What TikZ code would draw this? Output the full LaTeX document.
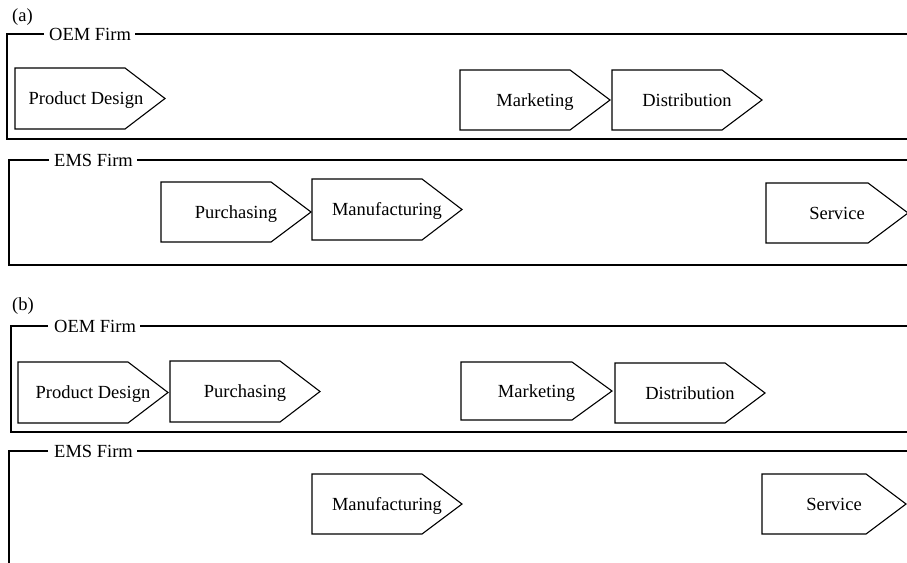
\documentclass[tikz,border=0pt]{standalone}
\usepackage{fontspec}
\setmainfont{Liberation Serif}
\tikzset{
  chevline/.style={draw=black, line width=1.1pt, line join=miter},
  chevtext/.style={inner sep=0pt, text height=12.2pt, text depth=0pt, font=\fontsize{18.5}{22}\selectfont},
  frameline/.style={draw=black, line width=2.2pt},
  framelabel/.style={inner sep=0pt, text height=12.2pt, text depth=0pt, font=\fontsize{18.5}{22}\selectfont, anchor=west},
  panellabel/.style={inner sep=0pt, anchor=west, font=\fontsize{18.5}{22}\selectfont}
}
\newcommand\chev[7]{%
  \draw[chevline] (#2,#3) -- ({#5-40},#3) -- (#5,{(#3+#4)/2}) -- ({#5-40},#4) -- (#2,#4) -- cycle;
  \node[chevtext] (#1) at ({(#2+#5)/2+#7},{(#3+#4)/2}) {#6};
}
\begin{document}
\begin{tikzpicture}[x=1pt,y=-1pt]
\useasboundingbox (0,0) rectangle (907,562);
\clip (0,0) rectangle (907,562);
% ---------- panel (a)
\node[panellabel] (pa) at (12,17) {(a)};
\node[framelabel] (oemA) at (49,34) {OEM Firm};
\coordinate (oemAr) at (912,34);
\coordinate (oemAb) at (912,139);
\draw[frameline] (oemA.west) ++(-5,0) -- (7,34) -- (7,139) -- (oemAb);
\draw[frameline] (oemA.east) ++(4,0) -- (oemAr);
\chev{pdA}{15}{68}{129}{165}{Product Design}{-4}
\chev{mkA}{460}{70}{130}{610}{Marketing}{0}
\chev{diA}{612}{70}{130}{762}{Distribution}{0}
\node[framelabel] (emsA) at (54,160) {EMS Firm};
\coordinate (emsAr) at (912,160);
\coordinate (emsAb) at (912,265);
\draw[frameline] (emsA.west) ++(-5,0) -- (9,160) -- (9,265) -- (emsAb);
\draw[frameline] (emsA.east) ++(4,0) -- (emsAr);
\chev{puA}{161}{182}{242}{311}{Purchasing}{0}
\chev{maA}{312}{179}{240}{462}{Manufacturing}{0}
\chev{seA}{766}{183}{243}{908}{Service}{0}
% ---------- panel (b)
\node[panellabel] (pb) at (12,306) {(b)};
\node[framelabel] (oemB) at (54,326) {OEM Firm};
\coordinate (oemBr) at (912,326);
\coordinate (oemBb) at (912,432);
\draw[frameline] (oemB.west) ++(-6,0) -- (11,326) -- (11,432) -- (oemBb);
\draw[frameline] (oemB.east) ++(4,0) -- (oemBr);
\chev{pdB}{18}{362}{423}{168}{Product Design}{0}
\chev{puB}{170}{361}{422}{320}{Purchasing}{0}
\chev{mkB}{461}{362}{420}{612}{Marketing}{0}
\chev{diB}{615}{363}{423}{765}{Distribution}{0}
\node[framelabel] (emsB) at (54,451) {EMS Firm};
\coordinate (emsBr) at (912,451);
\coordinate (emsBb) at (9,570);
\draw[frameline] (emsB.west) ++(-6,0) -- (9,451) -- (emsBb);
\draw[frameline] (emsB.east) ++(4,0) -- (emsBr);
\chev{maB}{312}{474}{534}{462}{Manufacturing}{0}
\chev{seB}{762}{474}{534}{906}{Service}{0}
\end{tikzpicture}
\end{document}
